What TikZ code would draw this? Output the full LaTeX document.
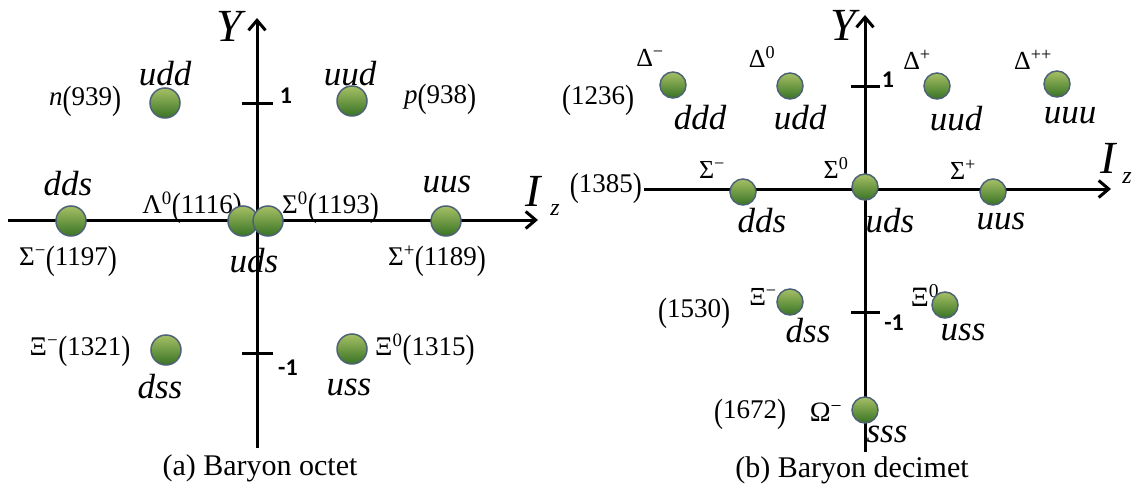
\documentclass[tikz,border=0pt]{standalone}
\usepackage{fontspec}
\setmainfont{Liberation Serif}
\newfontfamily\tickfont{Carlito}
\usetikzlibrary{arrows.meta}
\definecolor{balltop}{HTML}{A6C065}
\definecolor{ballbot}{HTML}{387324}
\definecolor{ballrim}{HTML}{4E6276}
% taller parentheses for the mass values
\newcommand{\lpar}{\raisebox{-0.12em}{\scalebox{1}[1.25]{(}}}
\newcommand{\rpar}{\raisebox{-0.12em}{\scalebox{1}[1.25]{)}}}
\newcommand{\mss}[1]{\lpar#1\rpar}
\newcommand{\up}[1]{\textsuperscript{#1}}
\begin{document}
\begin{tikzpicture}[x=1pt,y=-1pt,
  axisline/.style={line width=3pt},
  axisarrow/.style={axisline,-{Straight Barb[length=10pt,width=17pt,line width=3pt]}},
  tickmark/.style={line width=3pt},
  ballL/.style={circle,minimum size=30pt,inner sep=0pt,draw=ballrim,line width=1.5pt,
                top color=balltop,bottom color=ballbot},
  ballR/.style={ballL,minimum size=26pt},
  quark/.style={inner sep=0pt,font=\fontsize{35}{35}\selectfont\itshape},
  massL/.style={inner sep=0pt,font=\fontsize{27}{27}\selectfont},
  greekR/.style={inner sep=0pt,font=\fontsize{26}{26}\selectfont},
  axislabel/.style={inner sep=0pt,font=\fontsize{46}{46}\selectfont\itshape},
  sublabel/.style={inner sep=0pt,font=\fontsize{24}{24}\selectfont\itshape},
  ticklabel/.style={inner sep=0pt,font=\fontsize{24}{24}\selectfont\tickfont\bfseries},
  caption/.style={inner sep=0pt,font=\fontsize{30}{30}\selectfont}]
\useasboundingbox (0,0) rectangle (1135,492);

% ---------------- (a) octet ----------------
\coordinate (aL) at (8,220);
\coordinate (aR) at (538,220);
\coordinate (aB) at (257,448);
\coordinate (aT) at (257,18);
\coordinate (at1a) at (242,104); \coordinate (at1b) at (273,104);
\coordinate (at2a) at (242,353); \coordinate (at2b) at (273,353);

\node[axislabel] (aY) at (229,26) {Y};
\node[axislabel] (aI) at (533,191) {I};
\node[sublabel] (az) at (555,210) {z};
\node[ticklabel] (aone) at (286,96) {1};
\node[ticklabel] (amone) at (288,368) {-1};

\node[quark] (qudd) at (165,74) {udd};
\node[quark] (quud) at (350,74) {uud};
\node[massL] (mn) at (85,101) {\textit{n}\mss{939}};
\node[massL] (mp) at (440,99) {\textit{p}\mss{938}};
\node[quark] (qdds) at (68,184) {dds};
\node[quark] (quus) at (447,184) {uus};
\node[massL,anchor=east] (mL) at (242,208) {Λ\up{0}\mss{1116}};
\node[massL,anchor=west] (mS0) at (282,208) {Σ\up{0}\mss{1193}};
\node[massL] (mSm) at (68,261) {Σ\up{−}\mss{1197}};
\node[quark] (quds) at (254,261) {uds};
\node[massL] (mSp) at (437,261) {Σ\up{+}\mss{1189}};
\node[massL] (mXm) at (80,351) {Ξ\up{−}\mss{1321}};
\node[massL,anchor=west] (mX0) at (375,350) {Ξ\up{0}\mss{1315}};
\node[quark] (qdss) at (160,387) {dss};
\node[quark] (quss) at (349,387) {uss};

\draw[axisarrow] (aL) -- (aR);
\draw[axisarrow] (aB) -- (aT);
\draw[tickmark] (at1a) -- (at1b);
\draw[tickmark] (at2a) -- (at2b);

\node[ballL] (bn)  at (165,103) {};
\node[ballL] (bp)  at (352,101) {};
\node[ballL] (bSm) at (71,221) {};
\node[ballL] (bL)  at (243,221) {};
\node[ballL] (bS0) at (268,221) {};
\node[ballL] (bSp) at (446,221) {};
\node[ballL] (bXm) at (166,350) {};
\node[ballL] (bX0) at (352,349) {};

\node[caption] (capa) at (260,468) {(a) Baryon octet};

% ---------------- (b) decimet ----------------
\coordinate (bL0) at (644,189);
\coordinate (bR0) at (1111,189);
\coordinate (bB0) at (865,452);
\coordinate (bT0) at (865,15);
\coordinate (bt1a) at (851,87); \coordinate (bt1b) at (880,87);
\coordinate (bt2a) at (851,312); \coordinate (bt2b) at (880,312);

\node[axislabel] (bY) at (843,25) {Y};
\node[axislabel] (bI) at (1108,158) {I};
\node[sublabel] (bz) at (1127,178) {z};
\node[ticklabel] (bone) at (888,80) {1};
\node[ticklabel] (bmone) at (894,323) {-1};

\node[greekR] (gDm) at (650,58) {Δ\up{−}};
\node[greekR] (gD0) at (762,57) {Δ\up{0}};
\node[greekR] (gDp) at (917,60) {Δ\up{+}};
\node[greekR] (gDpp) at (1033,60) {Δ\up{++}};
\node[massL] (m1236) at (598,100) {\mss{1236}};
\node[quark] (rddd) at (700,118) {ddd};
\node[quark] (rudd) at (800,118) {udd};
\node[quark] (ruud) at (956,119) {uud};
\node[quark] (ruuu) at (1070,116) {uuu};

\node[massL,anchor=east] (m1385) at (642,188) {\mss{1385}};
\node[greekR] (gSm) at (712,170) {Σ\up{−}};
\node[greekR] (gS0) at (836,168) {Σ\up{0}};
\node[greekR] (gSp) at (963,170) {Σ\up{+}};
\node[quark] (rdds) at (762,221) {dds};
\node[quark] (ruds) at (890,221) {uds};
\node[quark] (ruus) at (1001,221) {uus};

\node[massL] (m1530) at (694,313) {\mss{1530}};
\node[greekR] (gXm) at (763,297) {Ξ\up{−}};
\node[quark] (rdss) at (808,331) {dss};
\node[greekR,font=\fontsize{28}{28}\selectfont] (gX0) at (925,295) {Ξ\up{0}};
\node[quark] (russ) at (963,332) {uss};

\node[massL] (m1672) at (750,414) {\mss{1672}};
\node[greekR,font=\fontsize{28}{28}\selectfont] (gOm) at (826,412) {Ω\up{−}};
\node[quark] (rsss) at (887,434) {sss};

\draw[axisarrow] (bL0) -- (bR0);
\draw[axisarrow] (bB0) -- (bT0);
\draw[tickmark] (bt1a) -- (bt1b);
\draw[tickmark] (bt2a) -- (bt2b);

\node[ballR] (cDm)  at (673,85) {};
\node[ballR] (cD0)  at (790,86) {};
\node[ballR] (cDp)  at (937,86) {};
\node[ballR] (cDpp) at (1057,84) {};
\node[ballR] (cSm)  at (743,192) {};
\node[ballR] (cS0)  at (865,187) {};
\node[ballR] (cSp)  at (993,192) {};
\node[ballR] (cXm)  at (790,302) {};
\node[ballR] (cX0)  at (945,305) {};
\node[ballR] (cOm)  at (865,410) {};

\node[caption] (capb) at (852,470) {(b) Baryon decimet};
\end{tikzpicture}
\end{document}
